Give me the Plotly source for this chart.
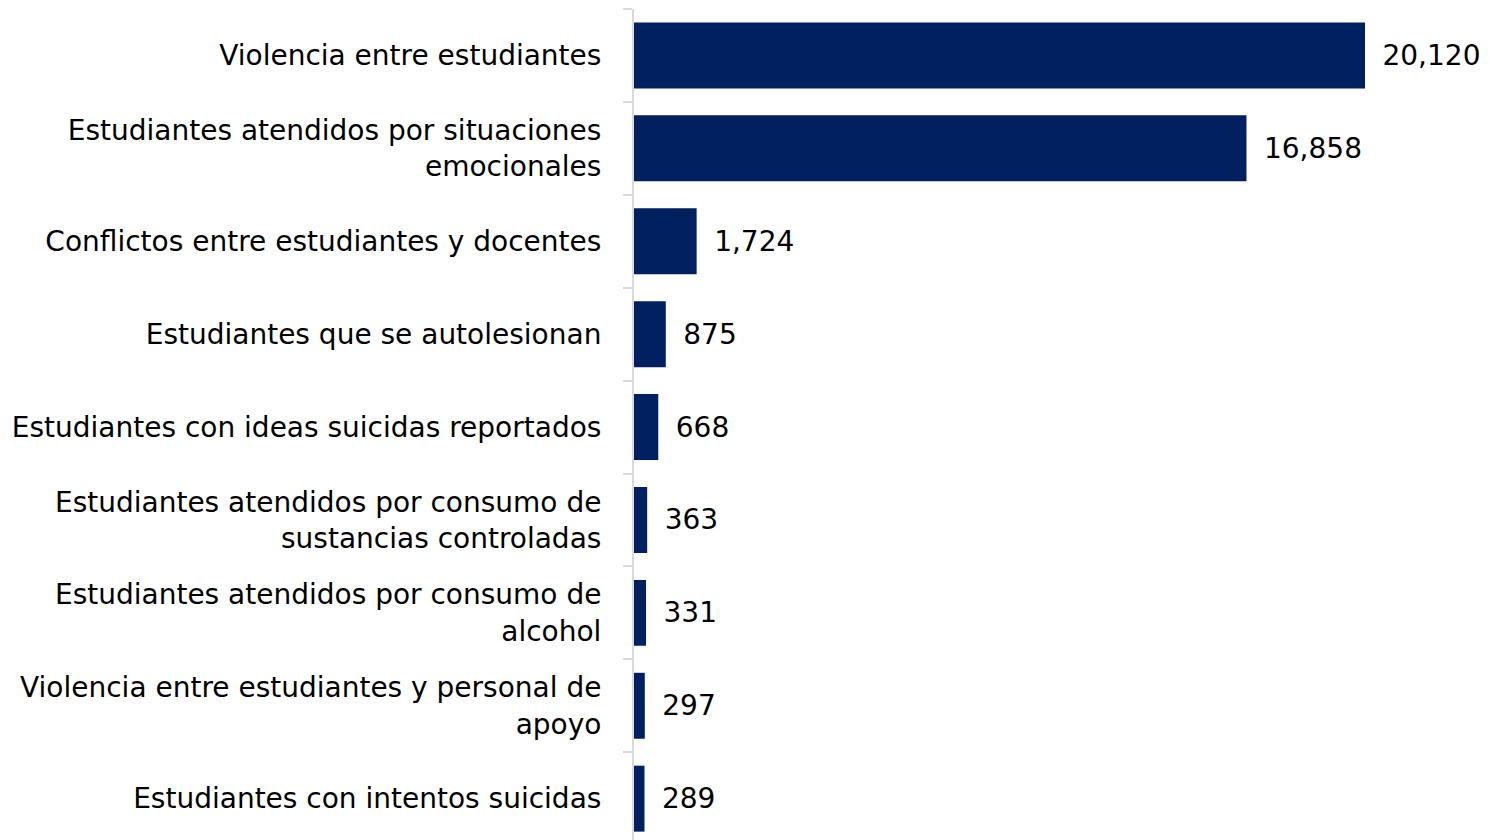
import plotly.graph_objects as go

categories = [
    "Violencia entre estudiantes",
    "Estudiantes atendidos por situaciones<br>emocionales",
    "Conflictos entre estudiantes y docentes",
    "Estudiantes que se autolesionan",
    "Estudiantes con ideas suicidas reportados",
    "Estudiantes atendidos por consumo de<br>sustancias controladas",
    "Estudiantes atendidos por consumo de<br>alcohol",
    "Violencia entre estudiantes y personal de<br>apoyo",
    "Estudiantes con intentos suicidas",
]
values = [20120, 16858, 1724, 875, 668, 363, 331, 297, 289]

FONT = "DejaVu Sans"
FS = 28
R = 100

fig = go.Figure(go.Bar(
    x=values, y=categories, orientation="h",
    marker=dict(color="#002060", line=dict(width=0)),
    text=[f"{v:,}" for v in values],
    texttemplate=" \u2009%{text}",
    textposition="outside",
    textfont=dict(size=FS, color="#000000", family=FONT),
    cliponaxis=False,
    width=0.71,
))

fig.update_layout(
    width=1481, height=832,
    margin=dict(l=626, r=R, t=1, b=0, autoexpand=False),
    paper_bgcolor="white", plot_bgcolor="white",
    font=dict(family=FONT, size=FS, color="#000000"),
    showlegend=False,
    bargap=0.29,
)
fig.update_xaxes(range=[0, 20120 * (1489 - R - 634) / 731], visible=False,
                 showgrid=False, zeroline=False)
fig.update_yaxes(
    range=[8.445, -0.5], automargin=False,
    showline=True, linecolor="#d9d9d9", linewidth=2,
    ticks="outside", tickson="boundaries", ticklen=9, tickcolor="#d9d9d9", tickwidth=2,
    showgrid=False, ticklabelstandoff=25,
    tickfont=dict(size=FS, family=FONT, color="#000000"),
)

fig.write_html("out.html")
